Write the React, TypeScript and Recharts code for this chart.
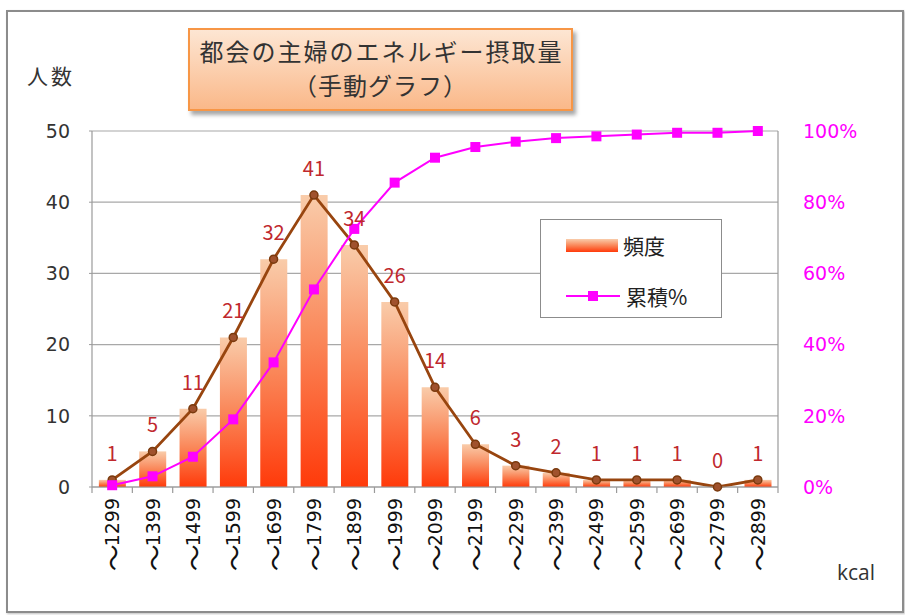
import React from 'react';
import { ComposedChart, Bar, Line, XAxis, YAxis, CartesianGrid, LabelList } from 'recharts';

const categories = ['〜1299', '〜1399', '〜1499', '〜1599', '〜1699', '〜1799', '〜1899', '〜1999', '〜2099', '〜2199', '〜2299', '〜2399', '〜2499', '〜2599', '〜2699', '〜2799', '〜2899'];
const frequency = [1, 5, 11, 21, 32, 41, 34, 26, 14, 6, 3, 2, 1, 1, 1, 0, 1];
const cumulativePct = [0.5, 3, 8.5, 19, 35, 55.5, 72.5, 85.5, 92.5, 95.5, 97, 98, 98.5, 99, 99.5, 99.5, 100];
const leftTicks = [0, 10, 20, 30, 40, 50];
const rightTicks = [0, 20, 40, 60, 80, 100];

const data = categories.map((c, i) => ({ cat: c, freq: frequency[i], cum: cumulativePct[i] }));

const NUM_FONT = '"DejaVu Sans", "Noto Sans CJK JP", sans-serif';
const JP_FONT = '"Noto Sans CJK JP", "DejaVu Sans", sans-serif';

const PLOT_W = 905 - 92 - 127;
const HALF = PLOT_W / categories.length / 2;

const XTick = (props: any) => {
  const { x, payload, index } = props;
  const label: string = String(payload.value);
  const wave = label.charAt(0);
  const num = label.slice(1);
  return (
    <g>
      <line x1={x - HALF} y1={487} x2={x - HALF} y2={493} stroke="#9a9a9a" strokeWidth={1.2} />
      {index === categories.length - 1 && (
        <line x1={x + HALF} y1={487} x2={x + HALF} y2={493} stroke="#9a9a9a" strokeWidth={1.2} />
      )}
      <text
        transform={`translate(${x},${498}) rotate(-90)`}
        textAnchor="end"
        dominantBaseline="central"
        fontSize={19}
        fontFamily={NUM_FONT}
        fill="#111"
      >
        <tspan fontFamily={JP_FONT} fontSize={27}>{wave}</tspan>
        <tspan dx={-2}>{num}</tspan>
      </text>
    </g>
  );
};

const SquareDot = (props: any) => {
  const { cx, cy } = props;
  if (cx == null || cy == null) return null;
  return <rect x={cx - 5} y={cy - 5} width={10} height={10} fill="#ff00ff" />;
};

const FreqLabel = (props: any) => {
  const { x, y, value } = props;
  return (
    <text x={x} y={y - 19} textAnchor="middle" fontSize={20} fontFamily={JP_FONT} fill="#c0282d">
      {value}
    </text>
  );
};

export default function App() {
  return (
    <div style={{ position: 'absolute', left: 0, top: 0, width: 905, height: 615, background: '#fff' }}>
      <ComposedChart
        width={905}
        height={615}
        data={data}
        margin={{ top: 131, right: 0, bottom: 0, left: 0 }}
        barCategoryGap="17%"
      >
        <defs>
          <linearGradient id="barGrad" x1="0" y1="0" x2="0" y2="1">
            <stop offset="0%" stopColor="#f9ccaa" />
            <stop offset="50%" stopColor="#fa8658" />
            <stop offset="100%" stopColor="#ff3a0a" />
          </linearGradient>
        </defs>
        <CartesianGrid yAxisId="left" vertical={false} stroke="#a8a8a8" strokeWidth={1.2} />
        <XAxis
          dataKey="cat"
          height={128}
          interval={0}
          tick={<XTick />}
          tickLine={false}
          axisLine={{ stroke: '#9a9a9a', strokeWidth: 1.2 }}
        />
        <YAxis
          yAxisId="left"
          width={92}
          domain={[0, 50]}
          ticks={leftTicks}
          tickSize={3}
          tickMargin={19}
          tickLine={{ stroke: '#9a9a9a' }}
          axisLine={{ stroke: '#9a9a9a', strokeWidth: 1.2 }}
          tick={{ fontSize: 19, fontFamily: NUM_FONT, fill: '#333' }}
        />
        <YAxis
          yAxisId="right"
          orientation="right"
          width={127}
          domain={[0, 100]}
          ticks={rightTicks}
          tickFormatter={(v: number) => `${v}%`}
          tickLine={false}
          tickMargin={19}
          axisLine={{ stroke: '#9a9a9a', strokeWidth: 1.2 }}
          tick={{ fontSize: 19, fontFamily: NUM_FONT, fill: '#ff00ff', textAnchor: 'start' }}
        />
        <Bar yAxisId="left" dataKey="freq" fill="url(#barGrad)" isAnimationActive={false} />
        <Line
          yAxisId="left"
          dataKey="freq"
          stroke="#98450f"
          strokeWidth={2.8}
          dot={{ r: 4, fill: '#a0522d', stroke: '#7a3a0e', strokeWidth: 1.5 }}
          isAnimationActive={false}
        >
          <LabelList dataKey="freq" content={<FreqLabel />} />
        </Line>
        <Line
          yAxisId="right"
          dataKey="cum"
          stroke="#ff00ff"
          strokeWidth={2}
          dot={<SquareDot />}
          isAnimationActive={false}
        />
      </ComposedChart>

      {/* outer frame */}
      <div
        style={{
          position: 'absolute', left: 6, top: 10, width: 894, height: 599,
          border: '2px solid #8c8c8c', boxShadow: '1px 1px 2px rgba(0,0,0,0.25)', pointerEvents: 'none',
        }}
      />

      {/* title box */}
      <div
        style={{
          position: 'absolute', left: 188, top: 28, width: 381, height: 75,
          border: '2px solid #f79646',
          background: 'linear-gradient(#fde6d3, #fab889)',
          boxShadow: '3px 4px 4px rgba(0,0,0,0.35)',
          fontFamily: JP_FONT, color: '#333', fontSize: 24, textAlign: 'center',
          lineHeight: '34px', paddingTop: 4, boxSizing: 'content-box',
        }}
      >
        <div style={{ letterSpacing: 2, marginRight: -2 }}>都会の主婦のエネルギー摂取量</div>
        <div style={{ letterSpacing: 1 }}>（手動グラフ）</div>
      </div>

      {/* axis titles */}
      <div style={{ position: 'absolute', left: 27, top: 60, fontFamily: JP_FONT, fontSize: 21, color: '#333', letterSpacing: 3, lineHeight: '30px' }}>人数</div>
      <div style={{ position: 'absolute', left: 837, top: 558, fontFamily: '"Open Sans", sans-serif', fontSize: 21, color: '#333', lineHeight: '28px' }}>kcal</div>

      {/* legend */}
      <div
        style={{
          position: 'absolute', left: 540, top: 219, width: 180, height: 97,
          border: '1px solid #8c8c8c', background: '#fff', fontFamily: JP_FONT, fontSize: 21, color: '#222',
        }}
      >
        <div style={{ position: 'absolute', left: 25, top: 19, width: 52, height: 13, background: 'linear-gradient(#f9ccaa, #fa8658, #ff3a0a)' }} />
        <div style={{ position: 'absolute', left: 82, top: 9, lineHeight: '32px' }}>頻度</div>
        <div style={{ position: 'absolute', left: 25, top: 75, width: 54, height: 2, background: '#ff00ff' }} />
        <div style={{ position: 'absolute', left: 47, top: 71, width: 10, height: 10, background: '#ff00ff' }} />
        <div style={{ position: 'absolute', left: 85, top: 60, lineHeight: '32px' }}>累積%</div>
      </div>
    </div>
  );
}
